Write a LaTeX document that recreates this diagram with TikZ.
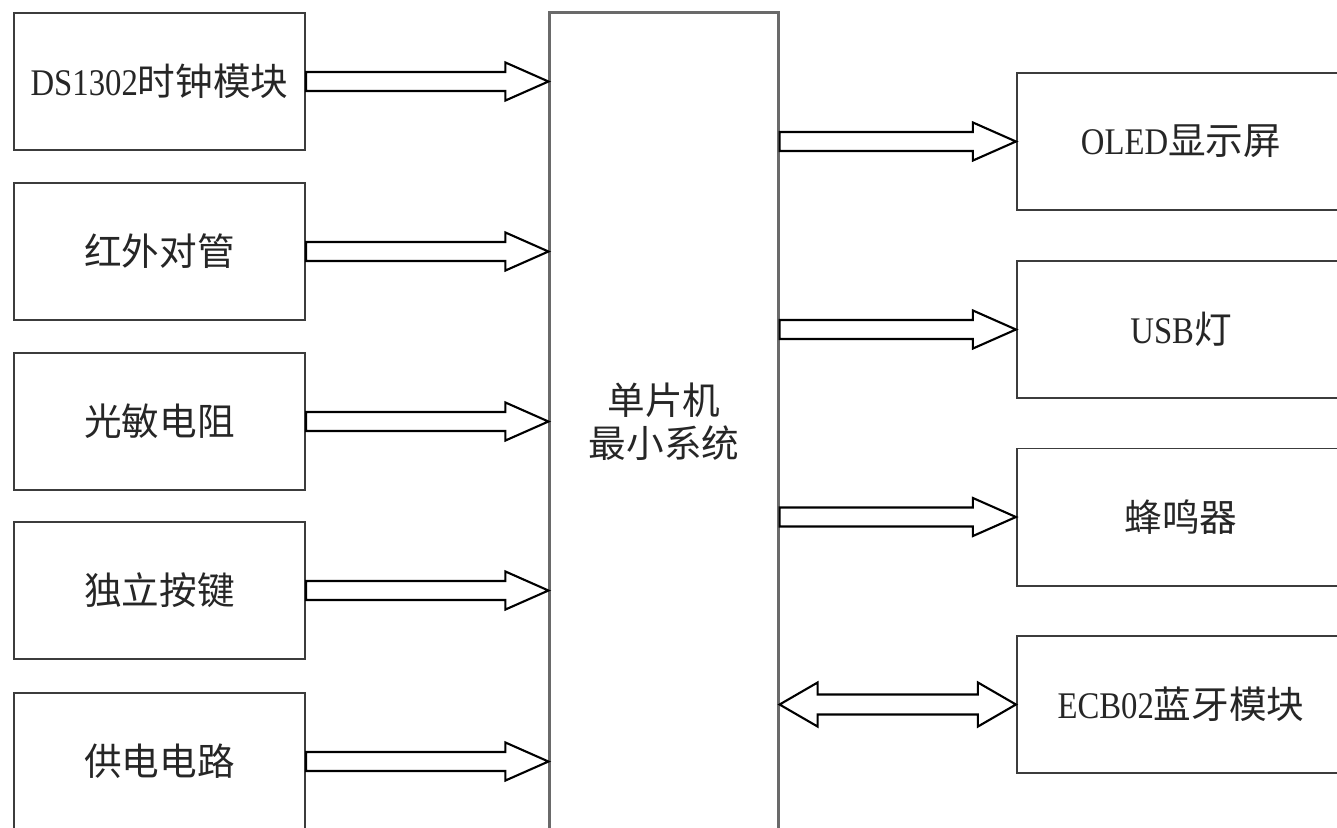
\documentclass[tikz,border=0pt]{standalone}
\usepackage{fontspec}
\setmainfont{Liberation Serif}[FakeStretch=0.87]
\newfontfamily\cjk{Noto Sans CJK SC}
\usetikzlibrary{calc}

\definecolor{boxgray}{HTML}{3C3C3C}
\definecolor{mcugray}{HTML}{6A6A6A}
\definecolor{textgray}{HTML}{262626}

% hollow block arrow from #1 to #2 (tip at #2)
\newcommand{\fatarrow}[2]{%
  \draw[arrowline] let \p1=(#1), \p2=(#2) in
    (\x1,\y1+0.095cm) -- (\x2-0.43cm,\y1+0.095cm) -- (\x2-0.43cm,\y1+0.19cm)
    -- (\x2,\y1) -- (\x2-0.43cm,\y1-0.19cm) -- (\x2-0.43cm,\y1-0.095cm)
    -- (\x1,\y1-0.095cm) -- cycle;}

% hollow block arrow with tips at both ends
\newcommand{\dblarrow}[2]{%
  \draw[arrowline] let \p1=(#1), \p2=(#2) in
    (\x1,\y1) -- (\x1+0.38cm,\y1+0.22cm) -- (\x1+0.38cm,\y1+0.10cm)
    -- (\x2-0.38cm,\y1+0.10cm) -- (\x2-0.38cm,\y1+0.22cm) -- (\x2,\y1)
    -- (\x2-0.38cm,\y1-0.22cm) -- (\x2-0.38cm,\y1-0.10cm)
    -- (\x1+0.38cm,\y1-0.10cm) -- (\x1+0.38cm,\y1-0.22cm) -- cycle;}

\begin{document}
\begin{tikzpicture}[x=0.01cm, y=-0.01cm,
    every node/.style={text=textgray, font=\fontsize{10.7}{12.2}\selectfont},
    inbox/.style={draw=boxgray, line width=0.55pt, minimum width=2.91cm, minimum height=1.37cm, inner sep=0pt},
    outbox/.style={draw=boxgray, line width=0.55pt, minimum width=3.28cm, minimum height=1.37cm, inner sep=0pt},
    mcubox/.style={draw=mcugray, line width=0.85pt, minimum width=2.28cm, minimum height=8.17cm, inner sep=0pt, align=center},
    arrowline/.style={draw=black, line width=0.6pt, fill=white, line join=miter}]

    \clip (0,0) rectangle (1337,827);
    \fill[white] (0,0) rectangle (1337,827);

    % inputs
    \node[inbox] (l1) at (159.5,81.5) {DS1302{\cjk 时钟模块}};
    \node[inbox] (l2) at (159.5,251.5) {\cjk 红外对管};
    \node[inbox] (l3) at (159.5,421.5) {\cjk 光敏电阻};
    \node[inbox] (l4) at (159.5,590.5) {\cjk 独立按键};
    \node[inbox] (l5) at (159.5,761.5) {\cjk 供电电路};

    % controller
    \node[mcubox] (mcu) at (664,421.5) {\cjk 单片机\\ \cjk 最小系统};

    % outputs
    \node[outbox] (r1) at (1181,141.5) {OLED{\cjk 显示屏}};
    \node[outbox] (r2) at (1181,329.5) {USB{\cjk 灯}};
    \node[outbox] (r3) at (1181,517) {\cjk 蜂鸣器};
    \node[outbox] (r4) at (1181,704.5) {ECB02{\cjk 蓝牙模块}};

    \foreach \i in {1,...,5} {%
        \fatarrow{l\i.east}{l\i.east -| mcu.west}%
    }
    \foreach \i in {1,...,3} {%
        \fatarrow{mcu.east |- r\i.west}{r\i.west}%
    }
    \dblarrow{mcu.east |- r4.west}{r4.west}

\end{tikzpicture}
\end{document}
